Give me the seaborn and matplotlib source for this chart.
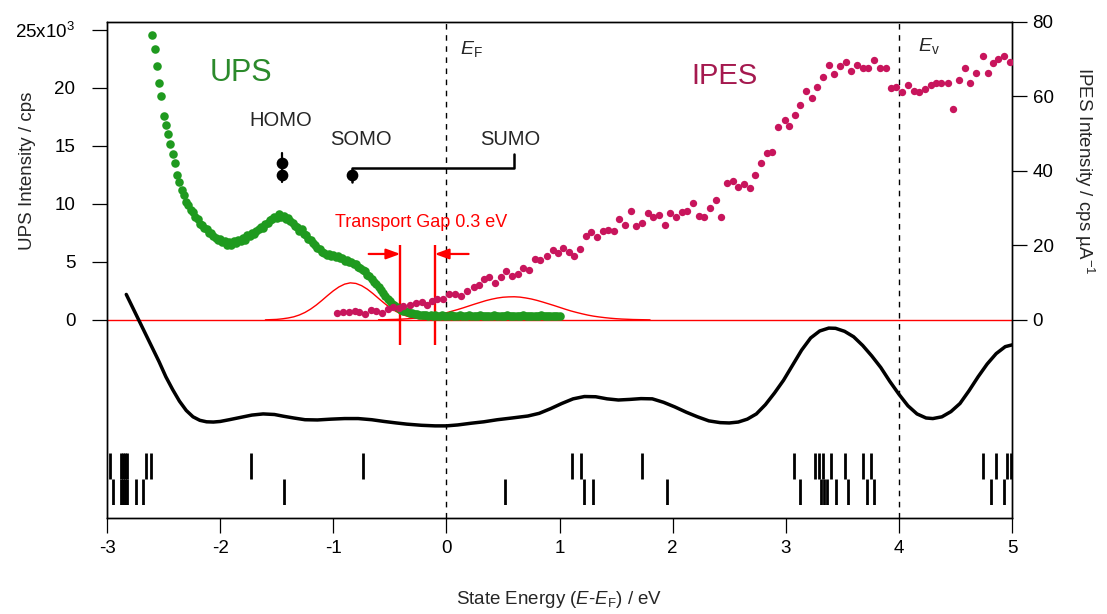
import numpy as np
import matplotlib
matplotlib.use("Agg")
import matplotlib.pyplot as plt
import seaborn as sns

sns.set_style("ticks")
plt.rcParams['font.family'] = ['Liberation Sans', 'DejaVu Sans']
plt.rcParams['mathtext.fontset'] = 'custom'
plt.rcParams['mathtext.rm'] = 'Liberation Sans'
plt.rcParams['mathtext.it'] = 'Liberation Sans:italic'
plt.rcParams['mathtext.bf'] = 'Liberation Sans:bold'
plt.rcParams['axes.unicode_minus'] = False

# UPS spectrum (x10^3 cps), sampled every 0.02 eV from -2.60 to 1.00 eV
ups_k = [
    24.6, 23.4, 21.9, 20.4, 19.3, 17.6, 16.8, 16.0, 15.2, 14.3,
    13.5, 12.5, 11.9, 11.2, 10.8, 10.2, 9.9, 9.5, 9.3, 8.9,
    8.7, 8.3, 8.2, 7.9, 7.8, 7.5, 7.5, 7.2, 7.1, 6.9,
    7.0, 6.7, 6.8, 6.5, 6.7, 6.5, 6.8, 6.6, 6.9, 6.8,
    7.1, 6.9, 7.3, 7.2, 7.5, 7.4, 7.7, 7.8, 8.0, 7.9,
    8.3, 8.4, 8.6, 8.7, 8.9, 8.8, 9.1, 8.9, 9.0, 8.7,
    8.8, 8.5, 8.4, 8.1, 8.0, 7.7, 7.8, 7.4, 7.3, 7.0,
    6.9, 6.6, 6.5, 6.2, 6.1, 5.9, 5.8, 5.6, 5.7, 5.5,
    5.6, 5.4, 5.5, 5.3, 5.3, 5.1, 5.2, 5.0, 5.0, 4.8,
    4.8, 4.6, 4.5, 4.3, 4.2, 3.9, 3.8, 3.5, 3.3, 3.1,
    2.8, 2.6, 2.3, 2.1, 1.8, 1.6, 1.4, 1.3, 1.1, 1.0,
    0.9, 0.8, 0.75, 0.7, 0.6, 0.6, 0.5, 0.5, 0.45, 0.45,
    0.4,
    0.40, 0.35, 0.40, 0.35, 0.40, 0.30, 0.35, 0.40, 0.30, 0.35,
    0.30, 0.40, 0.35, 0.30, 0.35, 0.40, 0.30, 0.35, 0.30, 0.40,
    0.35, 0.30, 0.35, 0.30, 0.40, 0.35, 0.30, 0.35, 0.30, 0.35,
    0.40, 0.30, 0.35, 0.30, 0.35, 0.30, 0.40, 0.35, 0.30, 0.35,
    0.30, 0.35, 0.30, 0.40, 0.35, 0.30, 0.35, 0.30, 0.35, 0.30,
    0.35, 0.40, 0.30, 0.35, 0.30, 0.35, 0.30, 0.35, 0.30, 0.35,
]
ups_e = np.linspace(-2.60, 1.00, len(ups_k))

# IPES spectrum (cps/uA)
ipes_e = [
    -0.97, -0.91, -0.86, -0.81, -0.77, -0.72, -0.67, -0.62, -0.57, -0.52,
    -0.47, -0.42, -0.38, -0.32, -0.27, -0.22, -0.17, -0.13, -0.08, -0.03,
    0.02, 0.08, 0.13, 0.18, 0.24, 0.29, 0.33, 0.38, 0.43, 0.48,
    0.53, 0.58, 0.63, 0.68, 0.73, 0.78, 0.83, 0.89, 0.94, 0.99,
    1.03, 1.08, 1.13, 1.18, 1.23, 1.28, 1.33, 1.38, 1.43, 1.48,
    1.53, 1.58, 1.63, 1.68, 1.73, 1.78, 1.83, 1.88, 1.93, 1.98,
    2.03, 2.08, 2.13, 2.18, 2.23, 2.28, 2.33, 2.38, 2.43, 2.48,
    2.53, 2.58, 2.63, 2.68, 2.73, 2.78, 2.83, 2.88, 2.93, 2.99,
    3.03, 3.08, 3.13, 3.18, 3.23, 3.28, 3.33, 3.38, 3.43, 3.48,
    3.53, 3.58, 3.63, 3.68, 3.73, 3.78, 3.83, 3.89, 3.93, 3.97,
    4.03, 4.08, 4.13, 4.18, 4.23, 4.28, 4.33, 4.37, 4.43, 4.48,
    4.53, 4.58, 4.63, 4.68, 4.74, 4.79, 4.83, 4.88, 4.93, 4.98,
]
ipes_v = [
    1.96, 2.15, 2.15, 2.33, 2.15, 1.61, 2.68, 2.33, 1.96, 2.86,
    3.40, 3.13, 3.76, 4.03, 4.47, 4.83, 3.94, 5.10, 5.55, 5.70,
    6.98, 6.98, 6.44, 7.87, 8.95, 9.40, 10.9, 11.5, 9.84, 11.45,
    13.24, 11.81, 12.35, 13.87, 13.42, 16.47, 16.10, 17.18, 18.79, 17.90,
    19.24, 18.35, 17.27, 19.15, 22.55, 23.54, 22.20, 23.98, 24.16, 23.98,
    27.03, 25.60, 29.26, 25.23, 25.95, 28.80, 27.74, 28.19, 25.50, 28.80,
    27.56, 29.08, 29.35, 31.32, 27.92, 27.74, 30.16, 32.20, 27.56, 36.87,
    37.30, 35.80, 36.50, 35.50, 38.84, 42.24, 44.92, 45.10, 51.90, 53.70,
    52.08, 55.03, 57.60, 61.50, 59.70, 62.60, 65.10, 68.50, 66.00, 68.20,
    69.35, 66.85, 68.46, 67.74, 67.56, 69.80, 67.74, 67.74, 62.20, 62.46,
    61.30, 63.10, 61.50, 61.30, 62.00, 63.10, 63.60, 63.60, 63.50, 56.60,
    64.30, 67.74, 63.50, 66.40, 70.90, 66.20, 69.10, 70.00, 71.00, 69.35,
]

# fitted peaks (x10^3 cps), every 0.05 eV
somo_fit = [0.01, 0.03, 0.05, 0.10, 0.17, 0.27, 0.43, 0.65, 0.94, 1.29,
            1.69, 2.11, 2.51, 2.85, 3.09, 3.20, 3.15, 2.96, 2.66, 2.28,
            1.86, 1.45, 1.07, 0.76, 0.51, 0.33, 0.20, 0.12, 0.07, 0.04,
            0.02, 0.01, 0.0]
somo_fit_e = np.linspace(-1.60, 0.00, len(somo_fit))
sumo_fit = [0.02, 0.02, 0.04, 0.05, 0.07, 0.10, 0.14, 0.18, 0.24, 0.32,
            0.40, 0.51, 0.62, 0.76, 0.90, 1.05, 1.21, 1.37, 1.52, 1.67,
            1.79, 1.89, 1.96, 1.99, 2.00, 1.97, 1.90, 1.81, 1.69, 1.55,
            1.40, 1.25, 1.09, 0.93, 0.78, 0.65, 0.53, 0.42, 0.33, 0.26,
            0.20, 0.15, 0.11, 0.08, 0.06, 0.04, 0.03, 0.02, 0.01]
sumo_fit_e = np.linspace(-0.60, 1.80, len(sumo_fit))

# calculated DOS (arb., drawn on UPS scale)
calc_e = [-2.83, -2.78, -2.72, -2.66, -2.60, -2.54, -2.48, -2.42, -2.36, -2.30,
          -2.24, -2.18, -2.12, -2.06, -2.00, -1.92, -1.82, -1.72, -1.62, -1.52,
          -1.44, -1.35, -1.25, -1.14, -1.02, -0.90, -0.78, -0.66, -0.55, -0.45,
          -0.35, -0.22, -0.10, 0.00, 0.10, 0.22, 0.33, 0.45, 0.58, 0.72,
          0.82, 0.92, 1.02, 1.12, 1.22, 1.32, 1.42, 1.52, 1.62, 1.72,
          1.82, 1.92, 2.02, 2.12, 2.22, 2.32, 2.42, 2.50, 2.58, 2.66,
          2.74, 2.82, 2.90, 2.98, 3.06, 3.14, 3.22, 3.30, 3.38, 3.44,
          3.52, 3.60, 3.68, 3.76, 3.84, 3.92, 4.00, 4.08, 4.16, 4.24,
          4.30, 4.38, 4.46, 4.54, 4.62, 4.70, 4.78, 4.86, 4.94, 5.00]
calc_k = [2.2, 1.2, 0.0, -1.2, -2.4, -3.6, -4.9, -6.0, -7.0, -7.8,
          -8.35, -8.65, -8.78, -8.8, -8.75, -8.6, -8.4, -8.2, -8.1, -8.15,
          -8.3, -8.45, -8.6, -8.62, -8.55, -8.5, -8.5, -8.6, -8.75, -8.87,
          -8.98, -9.08, -9.13, -9.13, -9.05, -8.9, -8.78, -8.6, -8.45, -8.28,
          -8.05, -7.65, -7.2, -6.8, -6.6, -6.62, -6.8, -6.9, -6.85, -6.78,
          -6.8, -7.1, -7.5, -7.95, -8.35, -8.7, -8.85, -8.88, -8.8, -8.55,
          -8.1, -7.3, -6.3, -5.2, -3.9, -2.6, -1.55, -0.95, -0.7, -0.72,
          -0.98, -1.45, -2.2, -3.1, -4.1, -5.3, -6.4, -7.4, -8.1, -8.45,
          -8.5, -8.35, -7.9, -7.2, -6.1, -4.9, -3.8, -2.9, -2.3, -2.15]

# calculated level energies (two rows of sticks)
levels_a = [-2.97, -2.88, -2.86, -2.84, -2.82, -2.66, -2.61, -1.73, -0.74, 1.11,
            1.19, 1.73, 3.07, 3.26, 3.29, 3.33, 3.40, 3.52, 3.68, 3.75,
            4.74, 4.86, 4.96, 4.99]
levels_b = [-2.95, -2.88, -2.86, -2.84, -2.82, -2.74, -2.68, -1.44, 0.52, 1.22,
            1.30, 1.95, 3.13, 3.31, 3.34, 3.36, 3.44, 3.55, 3.72, 3.78,
            4.81, 4.93]

homo_e, somo_e, sumo_e = -1.45, -0.835, 0.60
gap_lo, gap_hi = -0.407, -0.104
e_f, e_vac = 0.0, 4.0

green = "#1f9a1f"
crimson = "#c8155c"

fig = plt.figure(figsize=(11.07, 6.14), dpi=100)
ax = fig.add_axes([0.0967, 0.1564, 0.8175, 0.8078])
ax2 = ax.twinx()

ax.axhline(0, color="red", lw=1.0, zorder=1)
for e in (e_f, e_vac):
    ax.axvline(e, color="black", lw=1.0, ls=(0, (4, 4)), zorder=1)

sns.lineplot(x=somo_fit_e, y=somo_fit, ax=ax, color="red", lw=1.0, estimator=None, sort=False, zorder=2)
sns.lineplot(x=sumo_fit_e, y=sumo_fit, ax=ax, color="red", lw=1.0, estimator=None, sort=False, zorder=2)
sns.lineplot(x=calc_e, y=calc_k, ax=ax, color="black", lw=2.5, estimator=None, sort=False, zorder=2)
sns.scatterplot(x=ups_e, y=ups_k, ax=ax, color=green, s=38, linewidth=0, zorder=3)
sns.scatterplot(x=ipes_e, y=ipes_v, ax=ax2, color=crimson, s=28, linewidth=0, zorder=3)

# orbital diagram
ax.plot([homo_e, homo_e], [11.9, 14.4], color="black", lw=1.6)
ax.plot([somo_e, somo_e, sumo_e, sumo_e], [11.9, 13.13, 13.13, 14.3], color="black", lw=1.8)
ax.scatter([homo_e, homo_e, somo_e], [13.55, 12.5, 12.5], s=55, color="black", zorder=4)

# transport gap
ax.vlines([gap_lo, gap_hi], -2.16, 6.47, color="red", lw=1.7)
astyle = dict(arrowstyle="-|>,head_length=0.6,head_width=0.22", color="red", lw=1.6,
              mutation_scale=14, shrinkA=0, shrinkB=0)
ax.annotate("", xy=(gap_lo, 5.69), xytext=(gap_lo - 0.28, 5.69), arrowprops=astyle)
ax.annotate("", xy=(gap_hi, 5.69), xytext=(gap_hi + 0.30, 5.69), arrowprops=astyle)
ax.text(-0.982, 8.36, "Transport Gap 0.3 eV", color="red", fontsize=13, ha="left", va="center")

ax.text(-1.82, 21.3, "UPS", color="#2b8a2b", fontsize=22, ha="center", va="center")
ax.text(2.46, 21.0, "IPES", color="#a5194f", fontsize=21, ha="center", va="center")
ax.text(-1.465, 17.2, "HOMO", fontsize=14.5, ha="center", va="center")
ax.text(-0.757, 15.6, "SOMO", fontsize=14.5, ha="center", va="center")
ax.text(0.566, 15.6, "SUMO", fontsize=14.5, ha="center", va="center")
ax.text(0.124, 23.4, r"$E_\mathrm{F}$", fontsize=14, ha="left", va="center")
ax.text(4.168, 23.6, r"$E_\mathrm{v}$", fontsize=14, ha="left", va="center")

# stick rows
ev = fig.add_axes([0.0967, 0.1775, 0.8175, 0.0852])
ev.eventplot([levels_a, levels_b], lineoffsets=[1.5, 0.5], linelengths=0.98,
             linewidths=2.0, colors="black")
ev.set_xlim(-3, 5)
ev.set_ylim(0, 2)
ev.axis("off")

ax.set_xlim(-3, 5)
ax.set_ylim(-17.07, 25.69)
ax2.set_ylim(-53.15, 80)
ax.set_xticks(range(-3, 6))
ax.set_yticks([0, 5, 10, 15, 20, 25])
ax.set_yticklabels(["0", "5", "10", "15", "20", r"25x10$^3$"])
ax2.set_yticks([0, 20, 40, 60, 80])

for a in (ax, ax2):
    for sp in a.spines.values():
        sp.set_color("black")
        sp.set_linewidth(1.0)
ax.tick_params(axis="both", direction="out", length=10.8, width=0.9, labelsize=13.5, colors="black")
ax.tick_params(axis="y", pad=12)
ax.tick_params(axis="x", pad=5)
ax2.tick_params(axis="y", direction="out", length=10.8, width=0.9, labelsize=13.5, pad=4, colors="black")

ax.set_xlabel(r"State Energy ($E$-$E_\mathrm{F}$) / eV", fontsize=13.5)
ax.xaxis.set_label_coords(0.5, -0.143)
ax.set_ylabel("UPS Intensity / cps", fontsize=13.5)
ax.yaxis.set_label_coords(-0.079, 0.70)
ax2.set_ylabel(r"IPES Intensity / cps µA$^{-1}$", fontsize=13.5, rotation=270, va="bottom")
ax2.yaxis.set_label_coords(1.066, 0.70)

fig.savefig("out.png", dpi=100)
